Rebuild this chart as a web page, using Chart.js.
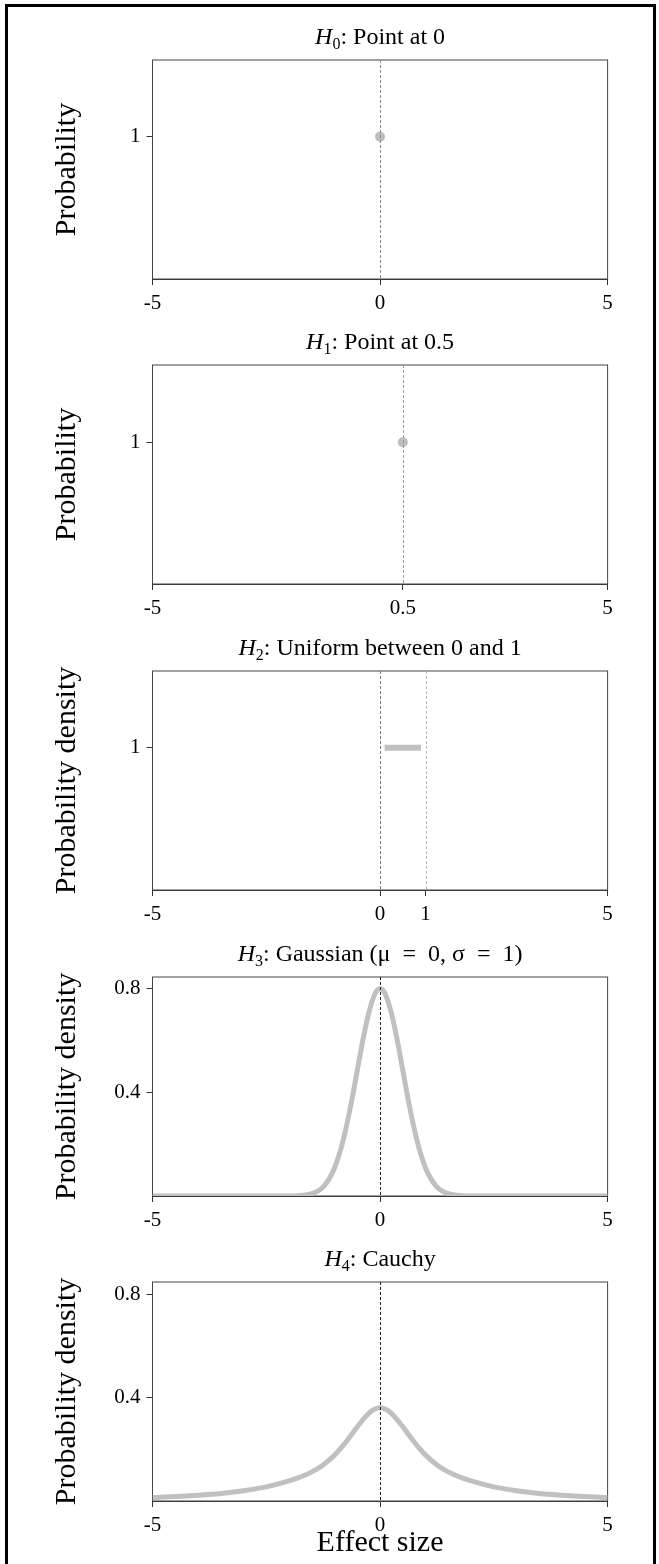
<!DOCTYPE html>
<html>
<head>
<meta charset="utf-8">
<script src="https://cdn.jsdelivr.net/npm/chart.js@4.4.1/dist/chart.umd.min.js"></script>
<style>
  body { margin: 0; background: #fff; }
  #wrap { position: relative; width: 659px; height: 1564px; overflow: hidden; }
  #frame { position: absolute; left: 5px; top: 4px; width: 651px; height: 1600px;
           border: 3px solid #000; box-sizing: border-box; }
  canvas { position: absolute; left: 0; }
</style>
</head>
<body>
<div id="wrap">
  <div id="frame"></div>
  <canvas id="p0" width="659" height="330" style="top:0px"></canvas>
  <canvas id="p1" width="659" height="330" style="top:305px"></canvas>
  <canvas id="p2" width="659" height="330" style="top:611px"></canvas>
  <canvas id="p3" width="659" height="330" style="top:917px"></canvas>
  <canvas id="p4" width="659" height="342" style="top:1222px"></canvas>
</div>
<script>
// ---- data ----
const titleSubs = ["0", "1", "2", "3", "4"];
const titleTexts = [": Point at 0", ": Point at 0.5", ": Uniform between 0 and 1",
                    ": Gaussian (\u03bc\u2002=\u20020, \u03c3\u2002=\u20021)", ": Cauchy"];
const yLabels = ["Probability", "Probability", "Probability density", "Probability density", "Probability density"];

const xTicks0 = [-5, 0, 5];
const xTicks1 = [-5, 0.5, 5];
const xTicks2 = [-5, 0, 1, 5];
const xTicks3 = [-5, 0, 5];
const xTicks4 = [-5, 0, 5];
const yTicksPoint = [1];
const yTicksDensity = [0.4, 0.8];

// H0 / H1 point masses
const pointX0 = [0];
const pointY0 = [1];
const pointX1 = [0.5];
const pointY1 = [1];

// H2 uniform segment
const uniformX = [0.1, 0.9];
const uniformY = [1, 1];

// H3 gaussian curve
const gaussX = [-5, -4, -3, -2, -1.75, -1.5, -1.375, -1.25, -1.125, -1, -0.875, -0.75, -0.625, -0.5, -0.375, -0.25, -0.125, -0.0625, 0,
                0.0625, 0.125, 0.25, 0.375, 0.5, 0.625, 0.75, 0.875, 1, 1.125, 1.25, 1.375, 1.5, 1.75, 2, 3, 4, 5];
const gaussY = [0, 0, 0, 0, 0.002, 0.009, 0.018, 0.035, 0.064, 0.108, 0.173, 0.26, 0.366, 0.485, 0.604, 0.706, 0.775, 0.794, 0.8,
                0.794, 0.775, 0.706, 0.604, 0.485, 0.366, 0.26, 0.173, 0.108, 0.064, 0.035, 0.018, 0.009, 0.002, 0, 0, 0, 0];

// H4 cauchy curve
const cauchyX = [-5, -4.5, -4, -3.5, -3, -2.5, -2, -1.75, -1.5, -1.25, -1, -0.875, -0.75, -0.625, -0.5, -0.375, -0.25, -0.125, 0,
                 0.125, 0.25, 0.375, 0.5, 0.625, 0.75, 0.875, 1, 1.25, 1.5, 1.75, 2, 2.5, 3, 3.5, 4, 4.5, 5];
const cauchyY = [0.014, 0.017, 0.022, 0.029, 0.04, 0.055, 0.078, 0.093, 0.113, 0.14, 0.178, 0.202, 0.229, 0.258, 0.288, 0.316, 0.34, 0.356, 0.362,
                 0.356, 0.34, 0.316, 0.288, 0.258, 0.229, 0.202, 0.178, 0.14, 0.113, 0.093, 0.078, 0.055, 0.04, 0.029, 0.022, 0.017, 0.014];

// dashed reference lines
const vlines0 = [0];
const vlines1 = [0.5];
const vlines2 = [0, 1];
const vlines3 = [0];
const vlines4 = [0];

const FONT = '"Liberation Serif", "DejaVu Serif", serif';
const GREY = '#c0c0c0';

function pts(xs, ys) {
  return xs.map((x, i) => ({ x: x, y: ys[i] }));
}

// title with italic H and subscript
const panelTitle = {
  id: 'panelTitle',
  afterDraw(chart, args, opts) {
    const ctx = chart.ctx;
    const a = chart.chartArea;
    ctx.save();
    ctx.fillStyle = '#000';
    ctx.textBaseline = 'alphabetic';
    ctx.font = 'italic 24px ' + FONT;
    const wH = ctx.measureText('H').width;
    ctx.font = '16px ' + FONT;
    const wS = ctx.measureText(opts.sub).width;
    ctx.font = '24px ' + FONT;
    const wR = ctx.measureText(opts.text).width;
    let x = (a.left + a.right) / 2 - (wH + wS + wR) / 2;
    const y = 44;
    ctx.textAlign = 'left';
    ctx.font = 'italic 24px ' + FONT;
    ctx.fillText('H', x, y);
    ctx.font = '16px ' + FONT;
    ctx.fillText(opts.sub, x + wH, y + 5);
    ctx.font = '24px ' + FONT;
    ctx.fillText(opts.text, x + wH + wS, y);
    ctx.restore();
  }
};

// box around plot area
const plotBox = {
  id: 'plotBox',
  beforeDatasetsDraw(chart) {
    const ctx = chart.ctx;
    const a = chart.chartArea;
    ctx.save();
    ctx.strokeStyle = '#444';
    ctx.lineWidth = 1;
    ctx.strokeRect(a.left, a.top, a.right - a.left, a.bottom - a.top);
    ctx.restore();
  }
};

// vertical dashed lines
const refLines = {
  id: 'refLines',
  afterDatasetsDraw(chart, args, opts) {
    const ctx = chart.ctx;
    const a = chart.chartArea;
    const xs = chart.scales.x;
    ctx.save();
    ctx.lineWidth = 1;
    ctx.setLineDash([3, 2]);
    opts.values.forEach((v, i) => {
      const px = Math.round(xs.getPixelForValue(v)) + 0.5;
      ctx.strokeStyle = opts.colors[i];
      ctx.beginPath();
      ctx.moveTo(px, a.top);
      ctx.lineTo(px, a.bottom);
      ctx.stroke();
    });
    ctx.restore();
  }
};

function makePanel(id, idx, dataset, xTicks, yTicks, yMax, vlines, vcolors, withXTitle) {
  const canvas = document.getElementById(id);
  const H = canvas.height;
  new Chart(canvas, {
    type: 'line',
    data: { datasets: [dataset] },
    options: {
      responsive: false,
      animation: false,
      layout: { padding: { left: 0, right: 51.4, top: 60, bottom: 0 } },
      plugins: {
        legend: { display: false },
        tooltip: { enabled: false },
        panelTitle: { sub: titleSubs[idx], text: titleTexts[idx] },
        refLines: { values: vlines, colors: vcolors }
      },
      scales: {
        x: {
          type: 'linear',
          min: -5, max: 5,
          afterBuildTicks: s => { s.ticks = xTicks.map(v => ({ value: v })); },
          afterFit: s => { s.height = H - 279; },
          ticks: {
            autoSkip: false, maxRotation: 0, padding: 6, color: '#000',
            font: { family: FONT, size: 21 },
            callback: v => String(v)
          },
          grid: { drawOnChartArea: false, drawTicks: true, tickLength: 6, color: '#333' },
          border: { display: true, color: '#333', width: 1 },
          title: {
            display: withXTitle, text: 'Effect size', color: '#000',
            font: { family: FONT, size: 30, lineHeight: 1.2 },
            padding: { top: 0, bottom: 3 }
          }
        },
        y: {
          type: 'linear',
          min: 0, max: yMax,
          afterBuildTicks: s => { s.ticks = yTicks.map(v => ({ value: v })); },
          afterFit: s => { s.width = 152.5; },
          ticks: {
            padding: 6, color: '#000',
            font: { family: FONT, size: 21 },
            callback: v => String(v)
          },
          grid: { drawOnChartArea: false, drawTicks: true, tickLength: 6, color: '#333' },
          border: { display: true, color: '#333', width: 1 },
          title: {
            display: true, text: yLabels[idx], color: '#000',
            font: { family: FONT, size: 30, lineHeight: 1.2 },
            padding: { top: 49, bottom: 0 }
          }
        }
      }
    },
    plugins: [plotBox, refLines, panelTitle]
  });
}

const pointStyle = (xs, ys) => ({
  data: pts(xs, ys), showLine: false,
  pointRadius: 5, pointBackgroundColor: '#bdbdbd', pointBorderWidth: 0
});
const curveStyle = (xs, ys, w) => ({
  data: pts(xs, ys), borderColor: GREY, borderWidth: w, pointRadius: 0,
  cubicInterpolationMode: 'monotone', borderCapStyle: 'butt', fill: false
});

makePanel('p0', 0, pointStyle(pointX0, pointY0), xTicks0, yTicksPoint, 1.54, vlines0, ['#888'], false);
makePanel('p1', 1, pointStyle(pointX1, pointY1), xTicks1, yTicksPoint, 1.545, vlines1, ['#999'], false);
makePanel('p2', 2, curveStyle(uniformX, uniformY, 6), xTicks2, yTicksPoint, 1.54, vlines2, ['#777', '#bbb'], false);
makePanel('p3', 3, curveStyle(gaussX, gaussY, 5), xTicks3, yTicksDensity, 0.845, vlines3, ['#222'], false);
makePanel('p4', 4, curveStyle(cauchyX, cauchyY, 5), xTicks4, yTicksDensity, 0.85, vlines4, ['#222'], true);
</script>
</body>
</html>
